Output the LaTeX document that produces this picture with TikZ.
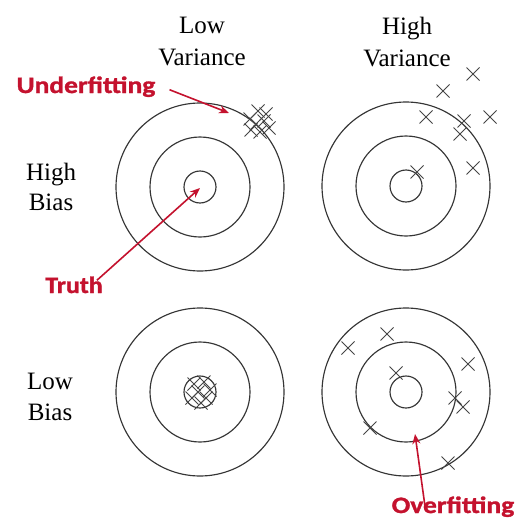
\documentclass[tikz,border=0pt]{standalone}
\usepackage{fontspec}
\setmainfont{Liberation Serif}
\newfontfamily\redfont[BoldFeatures={FakeBold=1.2}]{Carlito}
\usetikzlibrary{arrows.meta}
\definecolor{lab}{HTML}{C4122E}
\definecolor{ringc}{HTML}{353535}
\definecolor{crossc}{HTML}{454545}
\tikzset{
  ring/.style={circle,draw=ringc,line width=1.15pt,inner sep=0pt},
  ringS/.style={ring,minimum size=32pt},
  ringM/.style={ring,minimum size=100pt},
  ringL/.style={ring,minimum size=168pt},
  lbl/.style={font=\fontsize{25}{30}\selectfont, anchor=base, inner sep=0pt},
  redlbl/.style={font=\fontsize{23.5}{28}\selectfont\redfont\bfseries, text=lab, anchor=base, inner sep=0pt},
  redarrow/.style={draw=lab, line width=1.6pt, -{Stealth[length=10pt,width=8pt]}},
  xm/.style={draw=crossc, line width=0.85pt},
  xmark/.pic={\draw[xm] (-6.5,-6.5) -- (6.5,6.5) (-6.5,6.5) -- (6.5,-6.5);}
}
\begin{document}
\begin{tikzpicture}[x=1pt,y=-1pt]
\useasboundingbox[fill=white] (0,0) rectangle (517,522);

% targets
\foreach \n/\cx/\cy in {tl/200/187, tr/406/186, bl/200/392, br/406/392}{
  \node[ringL] (\n L) at (\cx,\cy) {};
  \node[ringM] (\n M) at (\cx,\cy) {};
  \node[ringS] (\n S) at (\cx,\cy) {};
}

% column / row labels
\node[lbl] (lv1) at (202,33) {Low};
\node[lbl] (lv2) at (202,65) {Variance};
\node[lbl] (hv1) at (407,34) {High};
\node[lbl] (hv2) at (407,66) {Variance};
\node[lbl] (hb1) at (51,180) {High};
\node[lbl] (hb2) at (51,210) {Bias};
\node[lbl] (lb1) at (50,389) {Low};
\node[lbl] (lb2) at (50,420) {Bias};

% crosses: top-left cluster
\foreach \a/\b in {250/119, 258/111, 266/114, 256/124, 264/121, 269/128, 251/130, 260/132}
  \pic at (\a,\b) {xmark};
% top-right
\foreach \a/\b in {473/74, 443/91, 426/117, 464/121, 490/117, 460/134, 473/168, 417/172}
  \pic at (\a,\b) {xmark};
% bottom-left cluster
\foreach \a/\b in {194/384, 204/382, 210/390, 198/392, 206/398, 192/398, 201/403}
  \pic at (\a,\b) {xmark};
% bottom-right
\foreach \a/\b in {348/348, 387/334, 468/364, 396/373, 455/398, 463/407, 370/428, 448/463}
  \pic at (\a,\b) {xmark};

% red labels
\node[redlbl] (uf) at (86,93) {\scalebox{1.17}[1]{Underfitting}};
\node[redlbl] (tr) at (74,293) {\scalebox{1.1}[1]{Truth}};
\node[redlbl] (of) at (453,513) {\scalebox{1.17}[1]{Overfitting}};

\coordinate (ufend) at (229,113);
\coordinate (trend) at (200,188);
\coordinate (ofend) at (415,434);

\draw[redarrow] ([xshift=14pt,yshift=-3pt]uf.east) -- (ufend);
\draw[redarrow] ([xshift=-6pt,yshift=-4pt]tr.north east) -- (trend);
\draw[redarrow] ([xshift=-28pt,yshift=-10pt]of.north) -- (ofend);
\end{tikzpicture}
\end{document}
